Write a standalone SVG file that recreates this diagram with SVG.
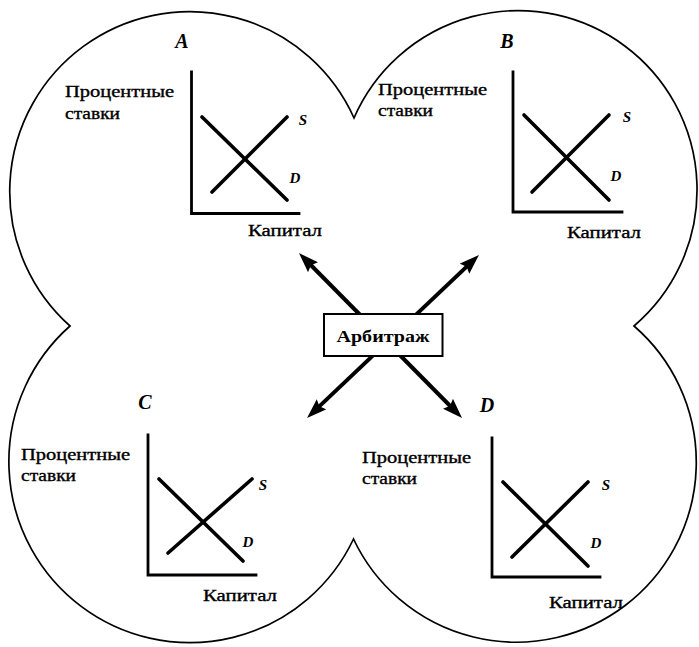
<svg xmlns="http://www.w3.org/2000/svg" width="699" height="647" viewBox="0 0 699 647">
  <style>
    .outline { fill: #fff; stroke: #000; stroke-width: 1.7; stroke-linejoin: miter; }
    .axis { fill: none; stroke: #000; stroke-width: 2.8; stroke-linecap: square; }
    .curve { fill: none; stroke: #000; stroke-width: 3.6; stroke-linecap: round; }
    .lbl { font-family: "Liberation Serif", "Times New Roman", serif; font-size: 16px; fill: #000; stroke: #000; stroke-width: 0.35; }
    .region { font-family: "Liberation Serif", "Times New Roman", serif; font-size: 20px; font-weight: bold; font-style: italic; fill: #000; text-anchor: middle; }
    .sd { font-family: "Liberation Serif", "Times New Roman", serif; font-size: 15px; font-weight: bold; font-style: italic; fill: #000; text-anchor: middle; }
    .arrow { fill: none; stroke: #000; stroke-width: 4; marker-start: url(#head); marker-end: url(#head); }
    .box { fill: #fff; stroke: #000; stroke-width: 2; }
    .boxtext { font-family: "Liberation Serif", "Times New Roman", serif; font-size: 16px; font-weight: bold; fill: #000; text-anchor: middle; }
  </style>
  <defs>
    <marker id="head" viewBox="0 0 20 14" refX="6" refY="7" markerWidth="20" markerHeight="14" markerUnits="userSpaceOnUse" orient="auto-start-reverse">
      <path d="M0,0 L20,7 L0,14 L3,7 Z" fill="#000"/>
    </marker>
  </defs>

  <rect width="699" height="647" fill="#fff"/>

  <!-- four-lobed boundary: union of four circles -->
  <path id="boundary" class="outline" d="M354,118 A179,179 0 1 1 634,326 A180,180 0 1 1 353.5,539 A181,181 0 1 1 70,326 A180,180 0 1 1 354,118 Z"/>

  <!-- market A -->
  <g id="market-A">
    <text class="region" x="182" y="48">A</text>
    <text class="lbl" x="65" y="97" textLength="109" lengthAdjust="spacingAndGlyphs">Процентные</text>
    <text class="lbl" x="65" y="119" textLength="55" lengthAdjust="spacingAndGlyphs">ставки</text>
    <path class="axis" d="M191.5,72 V213.5 H299"/>
    <line class="curve" x1="202" y1="117" x2="287" y2="200"/>
    <line class="curve" x1="212" y1="192" x2="287" y2="117"/>
    <text class="sd" x="303" y="125">S</text>
    <text class="sd" x="295" y="183">D</text>
    <text class="lbl" x="248" y="236" textLength="74" lengthAdjust="spacingAndGlyphs">Капитал</text>
  </g>

  <!-- market B -->
  <g id="market-B">
    <text class="region" x="507" y="48">B</text>
    <text class="lbl" x="378" y="95" textLength="109" lengthAdjust="spacingAndGlyphs">Процентные</text>
    <text class="lbl" x="378" y="116" textLength="55" lengthAdjust="spacingAndGlyphs">ставки</text>
    <path class="axis" d="M513,72 V212 H622"/>
    <line class="curve" x1="524" y1="115" x2="609" y2="200"/>
    <line class="curve" x1="532" y1="192" x2="609" y2="115"/>
    <text class="sd" x="627" y="122">S</text>
    <text class="sd" x="616" y="181">D</text>
    <text class="lbl" x="567" y="238" textLength="74" lengthAdjust="spacingAndGlyphs">Капитал</text>
  </g>

  <!-- market C -->
  <g id="market-C">
    <text class="region" x="145" y="409">C</text>
    <text class="lbl" x="21" y="460" textLength="109" lengthAdjust="spacingAndGlyphs">Процентные</text>
    <text class="lbl" x="21" y="481" textLength="55" lengthAdjust="spacingAndGlyphs">ставки</text>
    <path class="axis" d="M148,435 V575 H256"/>
    <line class="curve" x1="159" y1="479" x2="243" y2="561"/>
    <line class="curve" x1="168" y1="553" x2="252" y2="479"/>
    <text class="sd" x="263" y="490">S</text>
    <text class="sd" x="248" y="547">D</text>
    <text class="lbl" x="203" y="601" textLength="74" lengthAdjust="spacingAndGlyphs">Капитал</text>
  </g>

  <!-- market D -->
  <g id="market-D">
    <text class="region" x="487" y="412">D</text>
    <text class="lbl" x="362" y="463" textLength="109" lengthAdjust="spacingAndGlyphs">Процентные</text>
    <text class="lbl" x="362" y="484" textLength="55" lengthAdjust="spacingAndGlyphs">ставки</text>
    <path class="axis" d="M492,438 V577 H600"/>
    <line class="curve" x1="503" y1="482" x2="588" y2="566"/>
    <line class="curve" x1="512" y1="557" x2="588" y2="482"/>
    <text class="sd" x="606" y="490">S</text>
    <text class="sd" x="596" y="548">D</text>
    <text class="lbl" x="549" y="608" textLength="74" lengthAdjust="spacingAndGlyphs">Капитал</text>
  </g>

  <!-- arbitrage flows: two crossing double-headed arrows -->
  <g id="connectors">
    <line class="arrow" x1="308.8" y1="263" x2="452.2" y2="408"/>
    <line class="arrow" x1="317.2" y1="408.4" x2="468.8" y2="264.6"/>
  </g>

  <!-- central node -->
  <g id="arbitrage">
    <rect class="box" x="324" y="314" width="118.5" height="42"/>
    <text class="boxtext" x="383" y="341.5" textLength="93" lengthAdjust="spacingAndGlyphs">Арбитраж</text>
  </g>
</svg>
